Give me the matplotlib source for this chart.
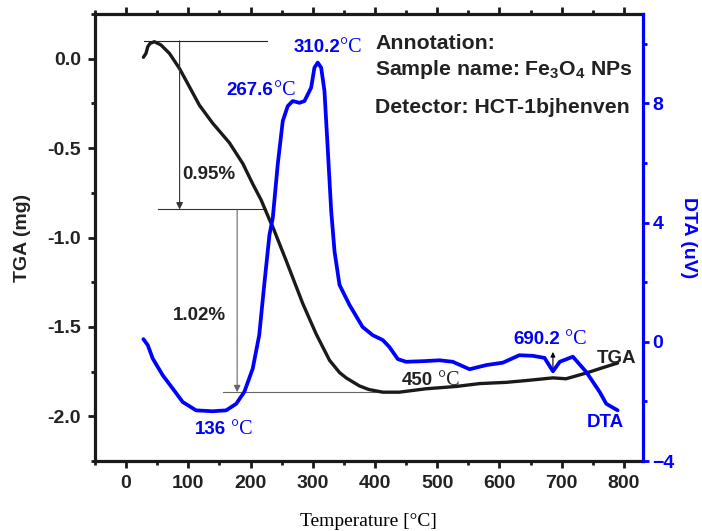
import matplotlib
matplotlib.use("Agg")
import matplotlib.pyplot as plt
from matplotlib.ticker import MultipleLocator

plt.rcParams["font.family"] = ["Liberation Sans", "DejaVu Sans"]
plt.rcParams["mathtext.fontset"] = "custom"
plt.rcParams["mathtext.rm"] = "Liberation Sans:bold"
plt.rcParams["mathtext.it"] = "Liberation Sans:bold"
plt.rcParams["mathtext.bf"] = "Liberation Sans:bold"

# TGA curve (mg)
tga_temp = [27.8, 32, 34.8, 38.6, 45.5, 56, 69.6, 85.7, 101.8, 117.8, 139,
            166, 187.5, 203.5, 217, 230.4, 235.7, 257, 284, 305.5, 327, 343,
            353.7, 375, 390, 412.5, 439, 482, 530.5, 568, 611, 643, 686, 707,
            739.5, 766, 790]
tga_mass = [0.008, 0.03, 0.067, 0.086, 0.095, 0.077, 0.03, -0.054, -0.157,
            -0.26, -0.36, -0.47, -0.586, -0.70, -0.79, -0.90, -0.94, -1.127,
            -1.37, -1.54, -1.687, -1.755, -1.785, -1.83, -1.85, -1.865, -1.865,
            -1.846, -1.833, -1.817, -1.81, -1.80, -1.785, -1.79, -1.758,
            -1.728, -1.702]

# DTA curve (uV)
dta_temp = [27.8, 34.8, 42.8, 58.8, 75, 91, 112.5, 139, 160.8, 177, 190,
            203.5, 214, 222, 230.4, 235.7, 243.7, 251.8, 259.8, 267.8, 278.6,
            286.7, 297.4, 302.7, 308, 313.5, 318.8, 324, 329.6, 335, 343, 359,
            380, 396.5, 412.5, 423, 436.7, 450, 477, 503.7, 525, 552, 579,
            605.5, 632, 653.7, 672.5, 686, 697, 718, 739.5, 761, 771.7, 790]
dta_signal = [0.09, -0.11, -0.56, -1.12, -1.57, -2.02, -2.30, -2.33, -2.30,
              -2.08, -1.68, -0.90, 0.23, 1.91, 3.59, 4.15, 5.95, 7.41, 7.91,
              8.08, 8.02, 8.08, 8.53, 9.20, 9.37, 9.20, 8.42, 6.51, 4.4, 3.03,
              1.91, 1.24, 0.5, 0.22, 0.06, -0.17, -0.58, -0.67, -0.65, -0.62,
              -0.67, -0.92, -0.78, -0.70, -0.45, -0.47, -0.54, -0.99, -0.67,
              -0.50, -1.01, -1.68, -2.08, -2.30]

# mass loss steps
step_levels = [0.10, -0.843, -1.865]
step_arrow_x = [86, 178.5]
step_labels = ["0.95%", "1.02%"]

fig = plt.figure(figsize=(7.02, 5.31), dpi=100)
ax = fig.add_axes([0.1353, 0.1318, 0.780, 0.8418])
ax2 = ax.twinx()

blue = "#0000ff"
dark = "#1a1a1a"

ax.plot(tga_temp, tga_mass, color=dark, lw=2.4, zorder=3,
        solid_joinstyle="round", solid_capstyle="round")
ax2.plot(dta_temp, dta_signal, color=blue, lw=2.7, zorder=3,
         solid_joinstyle="round", solid_capstyle="round")

ax.set_xlim(-50, 830)
ax.set_ylim(-2.25, 0.25)
ax2.set_ylim(-4, 11)

ax.xaxis.set_major_locator(MultipleLocator(100))
ax.xaxis.set_minor_locator(MultipleLocator(50))
ax.yaxis.set_major_locator(MultipleLocator(0.5))
ax.yaxis.set_minor_locator(MultipleLocator(0.25))
ax2.yaxis.set_major_locator(MultipleLocator(4))
ax2.yaxis.set_minor_locator(MultipleLocator(2))
ax.yaxis.set_major_formatter(plt.FormatStrFormatter("%.1f"))

for s in ["left", "bottom", "top"]:
    ax.spines[s].set_linewidth(2.3)
    ax.spines[s].set_color(dark)
ax.spines["right"].set_visible(False)
for s in ["left", "bottom", "top"]:
    ax2.spines[s].set_visible(False)
ax2.spines["right"].set_linewidth(2.3)
ax2.spines["right"].set_color(blue)

ax.tick_params(axis="both", which="major", direction="out", length=5, width=2,
               labelsize=14, pad=5, color=dark, labelcolor="#222222")
ax.tick_params(axis="both", which="minor", direction="out", length=3, width=2,
               color=dark)
ax.tick_params(axis="x", which="both", top=True)
ax2.tick_params(axis="y", which="major", direction="out", length=4, width=2,
                labelsize=14, pad=3, colors=blue)
ax2.tick_params(axis="y", which="minor", direction="out", length=3, width=2,
                colors=blue)
for lab in ax.get_xticklabels() + ax.get_yticklabels() + ax2.get_yticklabels():
    lab.set_fontweight("bold")

ax.set_xlabel("Temperature [°C]", family="Liberation Serif", fontsize=14,
              labelpad=15.5)
ax.set_ylabel("TGA (mg)", fontsize=14, fontweight="bold", labelpad=12,
              color="#222222")
ax2.set_ylabel("DTA (uV)", fontsize=14, fontweight="bold", color=blue,
               rotation=270, labelpad=16)

# step lines and arrows
line_c = ["#222222", "#333333", "#666666"]
ax.plot([29, 227], [step_levels[0]] * 2, color=line_c[0], lw=0.8)
ax.plot([52, 225], [step_levels[1]] * 2, color=line_c[1], lw=0.8)
ax.plot([155, 420], [step_levels[2]] * 2, color=line_c[2], lw=0.8)
for i in range(2):
    ax.annotate("", xy=(step_arrow_x[i], step_levels[i + 1]),
                xytext=(step_arrow_x[i], step_levels[i]),
                arrowprops=dict(arrowstyle="-|>", color=line_c[i + 1], lw=0.8,
                                mutation_scale=10, shrinkA=0, shrinkB=0))
ax.text(91, -0.675, step_labels[0], fontsize=13.5, fontweight="bold",
        color="#222222", va="baseline")
ax.text(75, -1.459, step_labels[1], fontsize=13.5, fontweight="bold",
        color="#222222", va="baseline")

# small arrow at 690.2
ax.annotate("", xy=(686, -1.64), xytext=(686, -1.735),
            arrowprops=dict(arrowstyle="-|>", color="black", lw=0.8,
                            mutation_scale=7, shrinkA=0, shrinkB=0))


def temp_label(x, y, num, unit, color):
    ax.text(x, y, num, fontsize=13.5, fontweight="bold", color=color,
            ha="right", va="baseline")
    ax.text(x, y, unit, fontsize=14.5, family="Liberation Serif", color=color,
            ha="left", va="baseline")


temp_label(344.5, 0.039, "310.2", "°C", blue)
temp_label(237, -0.203, "267.6", "°C", blue)
temp_label(161, -2.10, "136", " °C", blue)
temp_label(493, -1.827, "450", " °C", "#222222")
temp_label(697.5, -1.594, "690.2", " °C", blue)

ax.text(756, -1.70, "TGA", fontsize=13.5, fontweight="bold", color="#222222",
        va="baseline")
ax.text(740, -2.06, "DTA", fontsize=13.5, fontweight="bold", color=blue,
        va="baseline")

ann = "#222222"
ax.text(400.6, 0.054, "Annotation:", fontsize=15.3, fontweight="bold",
        color=ann, va="baseline")
ax.text(400.6, -0.092, "Sample name: Fe$_3$O$_4$ NPs", fontsize=15.3,
        fontweight="bold", color=ann, va="baseline")
ax.text(400.6, -0.302, "Detector: HCT-1bjhenven", fontsize=15.3,
        fontweight="bold", color=ann, va="baseline")

fig.savefig("out.png", dpi=100)
